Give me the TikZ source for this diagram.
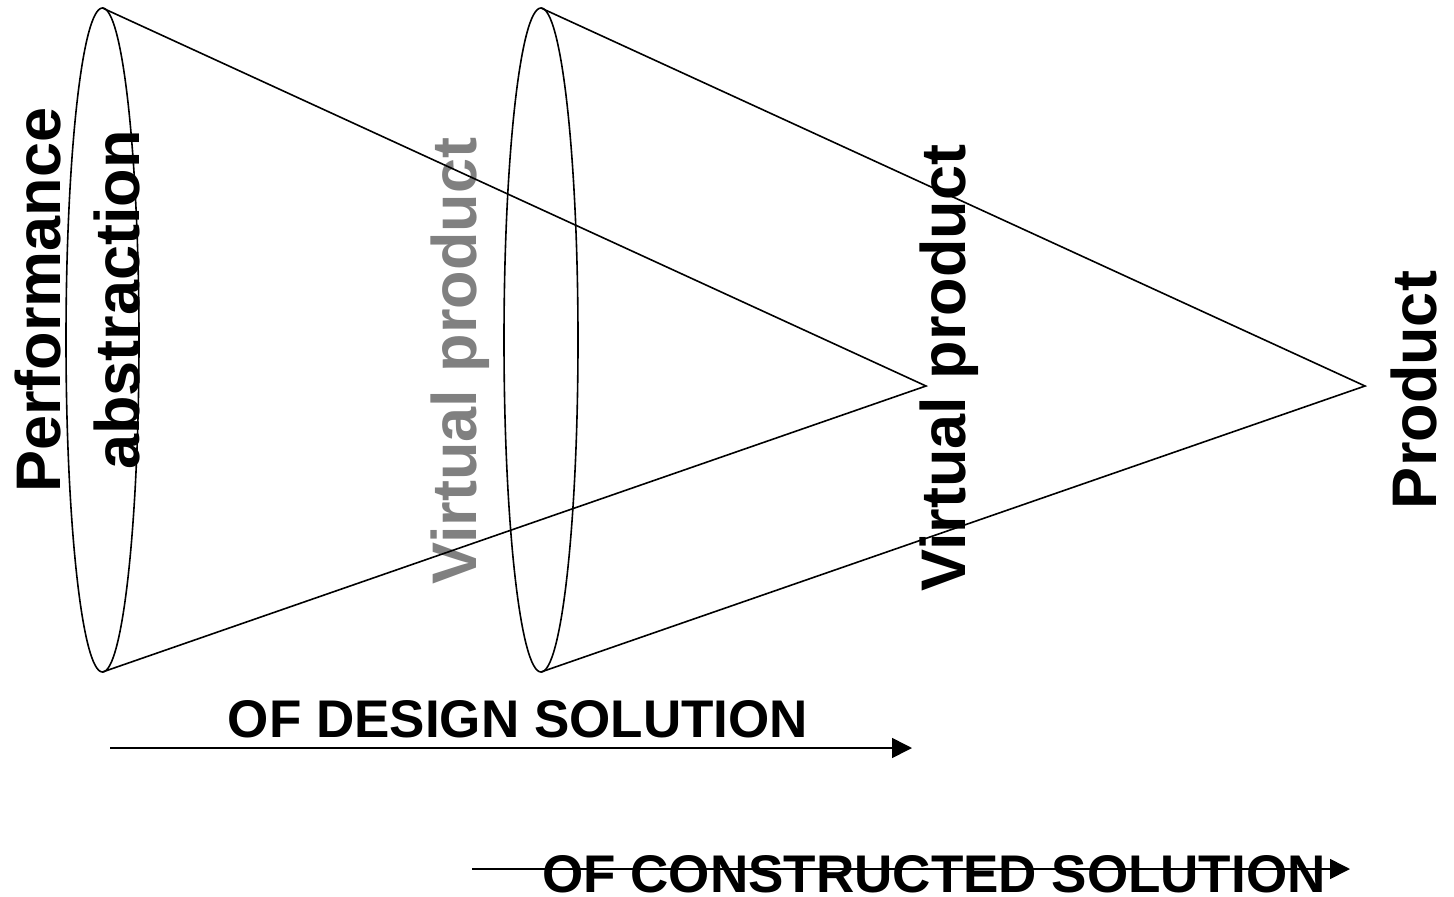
\documentclass[tikz,border=0pt]{standalone}
\usepackage{fontspec}
\setmainfont{Liberation Sans}
\usetikzlibrary{shapes.geometric,arrows.meta}
\definecolor{midgray}{RGB}{128,128,128}
\tikzset{
  cone/.style={ellipse,draw,line width=1.6pt,inner sep=0pt,outer sep=0pt,minimum width=73pt,minimum height=664pt},
  edge/.style={line width=1.6pt},
  vlabel/.style={rotate=90,anchor=base,inner sep=0pt,font=\fontsize{63}{76}\selectfont\bfseries},
  hlabel/.style={anchor=base,inner sep=0pt,font=\fontsize{53}{64}\selectfont\bfseries},
  flow/.style={line width=1.6pt,-{Triangle[length=20pt,width=20pt]}}
}
\begin{document}
\begin{tikzpicture}[x=1pt,y=-1pt]
\useasboundingbox (0,0) rectangle (1454,897);
% labels
\node[vlabel] (perf) at (60,300) {Performance};
\node[vlabel] (abs) at (139,300) {abstraction};
\node[vlabel,text=midgray] (vp1) at (476,361) {Virtual product};
\node[vlabel] (vp2) at (965,368) {Virtual product};
\node[vlabel] (prod) at (1436,390) {Product};
% cones
\node[cone] (e1) at (102.5,340) {};
\node[cone,minimum width=74pt] (e2) at (541,340) {};
\coordinate (a1) at (926,386);
\coordinate (a2) at (1365,386);
\draw[edge] (e1.north) -- (a1) -- (e1.south);
\draw[edge] (e2.north) -- (a2) -- (e2.south);
% arrows
\coordinate (s1) at (110,748);
\coordinate (t1) at (912,748);
\coordinate (s2) at (472,869);
\coordinate (t2) at (1350,869);
\draw[flow] (s1) -- (t1);
\draw[flow] (s2) -- (t2);
\node[hlabel] (design) at (518,737) {OF DESIGN SOLUTION};
\node[hlabel] (constr) at (934,892) {OF CONSTRUCTED SOLUTION};
\end{tikzpicture}
\end{document}
